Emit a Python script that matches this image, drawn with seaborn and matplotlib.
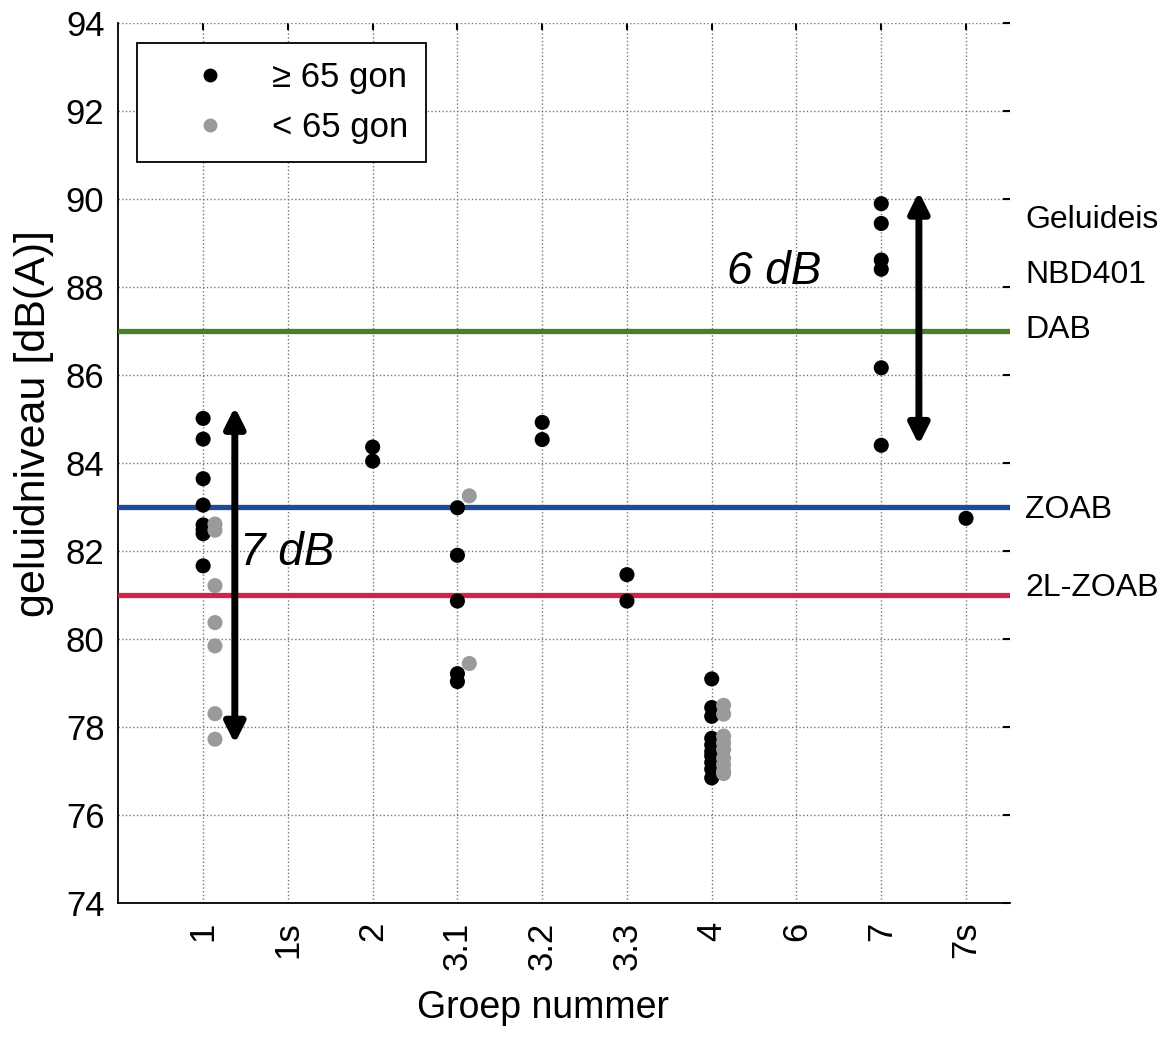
import matplotlib
matplotlib.use('Agg')
import matplotlib.pyplot as plt
from matplotlib.lines import Line2D
import pandas as pd
import seaborn as sns

# groups on the x axis, in plot order
groups = ['1', '1s', '2', '3.1', '3.2', '3.3', '4', '6', '7', '7s']

# noise levels dB(A), angle >= 65 gon
hi_group = ['1'] * 8 + ['2'] * 2 + ['3.1'] * 5 + ['3.2'] * 2 + ['3.3'] * 2 + ['4'] * 10 + ['7'] * 6 + ['7s']
hi_level = [85.02, 84.55, 83.65, 83.05, 82.6, 82.5, 82.4, 81.67,
            84.37, 84.05,
            82.99, 81.91, 80.87, 79.22, 79.04,
            84.93, 84.54,
            81.47, 80.87,
            79.1, 78.45, 78.25, 77.75, 77.6, 77.45, 77.35, 77.2, 77.05, 76.85,
            89.9, 89.45, 88.62, 88.41, 86.17, 84.41,
            82.75]

# angle < 65 gon
lo_group = ['1'] * 7 + ['3.1'] * 2 + ['4'] * 9
lo_level = [82.62, 82.48, 81.22, 80.38, 79.85, 78.31, 77.73,
            83.26, 79.45,
            78.5, 78.3, 77.8, 77.65, 77.5, 77.3, 77.15, 77.0, 76.95]

# reference levels per road surface
ref_names = ['DAB', 'ZOAB', '2L-ZOAB']
ref_levels = [87.0, 83.0, 81.0]
ref_colors = ['#4a7f2a', '#1b4b9a', '#d2234a']

# arrows: (x position, low, high, text)
span_x = [1.374, 9.444]
span_lo = [77.63, 84.42]
span_hi = [85.28, 90.17]
span_txt = ['7 dB', '6 dB']
span_txt_pos = [(1.43, 81.96), (7.18, 88.35)]

hi_label = '\u2265 65 gon'
lo_label = '< 65 gon'
gray = '#9a9a9a'

pos = {g: i + 1 for i, g in enumerate(groups)}
df = pd.concat([
    pd.DataFrame({'groep': hi_group, 'level': hi_level, 'hoek': hi_label}),
    pd.DataFrame({'groep': lo_group, 'level': lo_level, 'hoek': lo_label}),
], ignore_index=True)
# grey points are drawn just right of the group line
df['x'] = df['groep'].map(pos) + df['hoek'].map({hi_label: 0.0, lo_label: 0.14})

sns.set_theme(style='white')
plt.rcParams['font.family'] = ['Liberation Sans', 'DejaVu Sans']
plt.rcParams['text.color'] = 'black'
plt.rcParams['axes.labelcolor'] = 'black'
plt.rcParams['xtick.color'] = 'black'
plt.rcParams['ytick.color'] = 'black'

fig = plt.figure(figsize=(11.66, 10.52), dpi=100)
ax = fig.add_axes([0.1015, 0.1413, 0.7648, 0.8366])

ax.grid(True, color='#777777', linestyle=':', linewidth=1.0)
ax.set_axisbelow(True)

sns.scatterplot(data=df, x='x', y='level', hue='hoek',
                palette={hi_label: 'black', lo_label: gray},
                s=118, edgecolor='none', legend=False, ax=ax, zorder=4)

for name, lvl, col in zip(ref_names, ref_levels, ref_colors):
    ax.axhline(lvl, color=col, linewidth=3.8, zorder=3)

for x, lo, hi in zip(span_x, span_lo, span_hi):
    ax.annotate('', xy=(x, hi), xytext=(x, lo),
                arrowprops=dict(arrowstyle='<|-|>', color='black', lw=5,
                                mutation_scale=30, shrinkA=0, shrinkB=0),
                zorder=5)
for t, (tx, ty) in zip(span_txt, span_txt_pos):
    ax.text(tx, ty, t, fontsize=33, fontstyle='italic', ha='left', va='center', zorder=6)

# labels at the right side of the plot
right_txt = ['Geluideis', 'NBD401', 'DAB', 'ZOAB', '2L-ZOAB']
right_y = [89.53, 88.28, 87.03, 82.94, 81.17]
for t, y in zip(right_txt, right_y):
    ax.text(1.017, y, t, transform=ax.get_yaxis_transform(), fontsize=23,
            ha='left', va='center', clip_on=False)

ax.set_xlim(0, 10.52)
ax.set_ylim(74, 94)
ax.set_xticks(range(1, len(groups) + 1))
ax.set_xticklabels(groups, rotation=90)
ax.set_yticks(range(74, 95, 2))
ax.tick_params(axis='both', direction='in', length=5, width=1.5, labelsize=25,
               top=True, right=True, colors='black')
ax.tick_params(axis='x', pad=13)
ax.tick_params(axis='y', pad=10)

for side in ['top', 'right']:
    ax.spines[side].set_visible(False)
for side in ['left', 'bottom']:
    ax.spines[side].set_color('black')
    ax.spines[side].set_linewidth(1.3)

ax.set_xlabel('Groep nummer', fontsize=27)
ax.set_ylabel('geluidniveau [dB(A)]', fontsize=31)
ax.xaxis.set_label_coords(0.476, -0.098)
ax.yaxis.set_label_coords(-0.072, 0.545)

handles = [Line2D([], [], marker='o', linestyle='none', color='black', markersize=9),
           Line2D([], [], marker='o', linestyle='none', color=gray, markersize=9)]
leg = ax.legend(handles, [hi_label, lo_label], loc='upper left',
                bbox_to_anchor=(0.0206, 0.977), fontsize=25, frameon=True,
                fancybox=False, borderpad=0.5, handlelength=3.2, handletextpad=0.2,
                labelspacing=0.5, borderaxespad=0)
leg.get_frame().set_edgecolor('black')
leg.get_frame().set_linewidth(1.3)
leg.get_frame().set_alpha(1)

fig.savefig('out.png', dpi=100)
